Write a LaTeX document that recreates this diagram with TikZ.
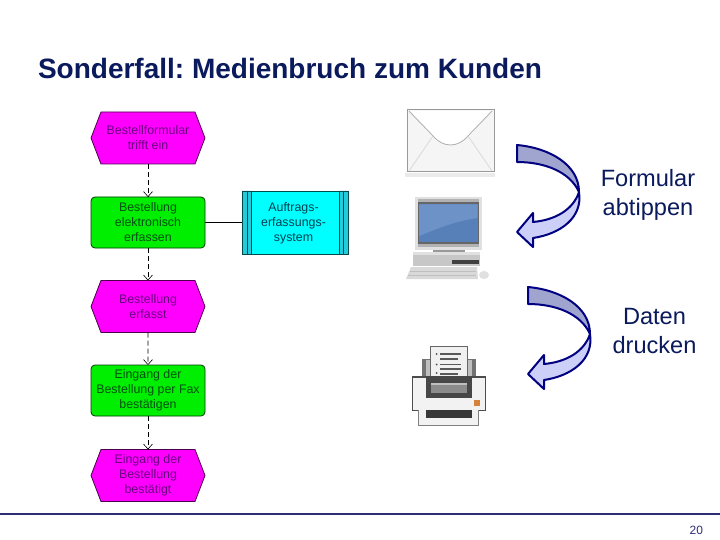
\documentclass[tikz,border=0pt]{standalone}
\usepackage{fontspec}
\setmainfont{Liberation Sans}
\usetikzlibrary{shapes.symbols,arrows.meta}
\definecolor{navy}{HTML}{000080}
\definecolor{titlec}{HTML}{0A1A5C}
\definecolor{mag}{HTML}{FF00FF}
\definecolor{grn}{HTML}{00EE00}
\definecolor{cy}{HTML}{00FFFF}
\definecolor{cyd}{HTML}{22CCDD}
\definecolor{evtxt}{HTML}{6A0080}
\definecolor{fcttxt}{HTML}{005010}
\definecolor{systxt}{HTML}{004050}
\tikzset{
 every node/.style={inner sep=0pt,outer sep=0pt},
 flowtext/.style={align=center,font=\fontsize{12.4}{15}\selectfont},
 evt/.style={flowtext,shape=signal,signal to=east and west,signal pointer angle=138,draw=black!70!mag,fill=mag,line width=.8pt,minimum width=114,minimum height=52,text=evtxt},
 fct/.style={flowtext,rectangle,rounded corners=4,draw=black!75!grn,fill=grn,line width=.8pt,minimum width=114,minimum height=51,text=fcttxt},
 sys/.style={flowtext,rectangle,minimum width=103,minimum height=63,text=systxt},
 flow/.style={draw=black,line width=.8pt,dash pattern=on 5pt off 3pt,-{Straight Barb[length=5pt,width=9pt,line width=.6pt]}},
 sidelabel/.style={align=center,font=\fontsize{23.6}{29}\selectfont,text=titlec},
 barrowline/.style={draw=navy,line width=2pt,line join=round},
}
\newcommand{\bentarrow}[2]{%
 \begin{scope}[shift={(#1,#2)}]
  \fill[fill={rgb,255:red,160;green,165;blue,208}] (517,145) .. controls (550,148) and (579,165) .. (579,192) .. controls (570,172) and (545,162) .. (517,162) -- cycle;
  \fill[fill={rgb,255:red,204;green,208;blue,248}] (579,192) .. controls (583,218) and (560,234) .. (533,238) -- (533,247) -- (517,232) -- (533,213) -- (533,222) .. controls (555,220) and (573,210) .. (579,192) -- cycle;
  \draw[barrowline] (579,192) .. controls (570,172) and (545,162) .. (517,162) -- (517,145) .. controls (550,148) and (579,165) .. (579,192) .. controls (583,218) and (560,234) .. (533,238) -- (533,247) -- (517,232) -- (533,213) -- (533,222) .. controls (555,220) and (573,210) .. (579,192);
 \end{scope}}
\begin{document}
\frenchspacing
\begin{tikzpicture}[x=1pt,y=-1pt]
\useasboundingbox (0,0) rectangle (720,540);
\fill[white] (0,0) rectangle (720,540);
% title
\node[anchor=base west,font=\bfseries\fontsize{28}{32}\selectfont,text=titlec] (title) at (38,79) {Sonderfall: Medienbruch zum Kunden};
% flow
\node[evt] (e1) at (148,138) {Bestellformular\\trifft ein};
\node[fct] (f1) at (148,222.5) {Bestellung\\elektronisch\\erfassen};
\node[evt] (e2) at (148,306.5) {Bestellung\\erfasst};
\node[fct] (f2) at (148,390.5) {Eingang der\\Bestellung per Fax\\bestätigen};
\node[evt] (e3) at (148,475.5) {Eingang der\\Bestellung\\bestätigt};
\fill[cy] (242,191) rectangle (348,254);
\fill[cyd] (242,191) rectangle (251,254) (339,191) rectangle (348,254);
\draw[black!70!cy,line width=.7pt] (242,191) rectangle (348,254) (247,191)--(247,254) (251,191)--(251,254) (339,191)--(339,254) (343.5,191)--(343.5,254);
\node[sys] (s1) at (293.5,223.5) {Auftrags-\\erfassungs-\\system};
\draw[flow] (e1) -- (f1);
\draw[flow] (f1) -- (e2);
\draw[flow] (e2) -- (f2);
\draw[flow] (f2) -- (e3);
\draw[black,line width=.8pt] (f1.east) -- (f1.east -| s1.west);
% envelope
\fill[black!8] (405,173) rectangle (495,177);
\draw[fill=white!96!black,draw=black!40,line width=1pt] (407,109.5) rectangle (494,172);
\fill[white] (409,111) -- (492,111) -- (468,138) .. controls (458,148) and (443,148) .. (433,138) -- cycle;
\draw[black!30,line width=.9pt] (409,111) -- (433,136) .. controls (443,148) and (458,148) .. (468,136) -- (492,111);
\draw[black!15,line width=.8pt] (433,136) -- (409,171) (468,136) -- (492,171);
% computer
\fill[black!12] (415,197) rectangle (482,250);
\fill[black!30] (418,199) rectangle (479,247);
\fill[black!60] (417.5,202.5) rectangle (479,244);
\fill[fill={rgb,255:red,88;green,128;blue,184}] (419,204.5) rectangle (477.5,242);
\fill[fill={rgb,255:red,108;green,146;blue,200}] (419,204.5) -- (477.5,204.5) -- (477.5,218) .. controls (450,222) and (430,232) .. (419,236) -- cycle;
\fill[black!40] (433,250) rectangle (465,253);
\fill[black!22] (413,252) rectangle (480,266);
\fill[black!12] (413,252) rectangle (480,255);
\fill[black!75] (452,260) rectangle (479,264);
\fill[black!15] (411,267) -- (477,267) -- (478,279) -- (406,279) -- cycle;
\draw[black!25,line width=.5pt] (410,271) -- (476,271) (408,275) -- (476,275);
\fill[black!12] (484,275) ellipse [x radius=5,y radius=4];
% printer
\fill[black!55] (422,359) rectangle (476,380);
\fill[black!25] (426,360) rectangle (472,380);
\fill[black!60] (430,346) rectangle (468,378);
\fill[white!94!black] (431,347) rectangle (467,378);
\draw[black!65,line width=1.2pt] (440,354) -- (461,354) (440,359) -- (458,359) (440,364.5) -- (461,364.5) (440,369) -- (461,369) (440,374) -- (458,374);
\fill[black!70] (436.5,354) circle (1) (436.5,364.5) circle (1) (436.5,373) circle (1);
\fill[black!70] (412,376) rectangle (486,411);
\fill[black!5] (413,377.5) rectangle (485,410);
\fill[black!72] (426,376) rectangle (472,398);
\fill[black!45] (431,383) rectangle (467,393);
\fill[black!25] (431,383) rectangle (467,385);
\fill[fill={rgb,255:red,214;green,130;blue,60}] (474,400) rectangle (480,406);
\fill[black!50] (418,410) rectangle (479,426);
\fill[black!5] (419,410) rectangle (478,424.5);
\fill[black!78] (426,410) rectangle (472,418);
% arrows
\bentarrow{0}{0}
\bentarrow{11}{142}
% labels
\node[sidelabel] (l1) at (648,195) {Formular\\abtippen};
\node[sidelabel] (l2) at (654.5,330.5) {Daten\\drucken};
% footer
\fill[fill={rgb,255:red,46;green,46;blue,120}] (0,513) rectangle (720,515);
\node[anchor=base east,font=\fontsize{12}{14}\selectfont,text={rgb,255:red,46;green,46;blue,120}] (pg) at (703,534) {20};
\end{tikzpicture}
\end{document}
